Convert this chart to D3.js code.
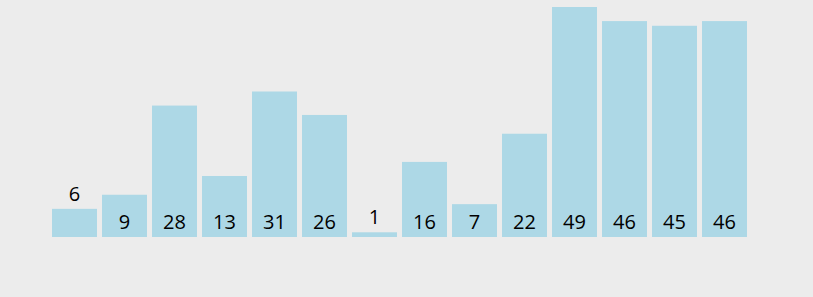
<!DOCTYPE html>
<html>
    <head>
        <script src="https://d3js.org/d3.v7.min.js"></script>
        <style>
            body { margin: 0; background: #ececec; }
        </style>
    </head>
    <body>
        <div id="chart"></div>
        <script>
            //  data
            const values = [6, 9, 28, 13, 31, 26, 1, 16, 7, 22, 49, 46, 45, 46];

            const width = 813;
            const height = 297;
            const barColor = "#add8e6";

            const svg = d3.select("#chart").append("svg")
                .attr("width", width)
                .attr("height", height);

            svg.append("rect")
                .attr("width", width)
                .attr("height", height)
                .attr("fill", "#ececec");

            const x = d3.scaleBand()
                .domain(d3.range(values.length))
                .range([52, 747])
                .paddingInner(0.1)
                .paddingOuter(0);

            const y = d3.scaleLinear()
                .domain([0, d3.max(values)])
                .range([237, 7]);

            svg.append("g")
                .selectAll("rect")
                .data(values)
                .join("rect")
                    .attr("x", (d, i) => x(i))
                    .attr("y", d => y(d))
                    .attr("width", x.bandwidth())
                    .attr("height", d => y(0) - y(d))
                    .attr("fill", barColor);

            //  small bars get their label on top, the rest inside at the bottom
            svg.append("g")
                .selectAll("text")
                .data(values)
                .join("text")
                    .text(d => d)
                    .attr("x", (d, i) => x(i) + x.bandwidth() / 2)
                    .attr("y", d => (y(0) - y(d)) < 30 ? y(d) - 8 : y(0) - 8)
                    .attr("text-anchor", "middle")
                    .attr("font-family", "'Open Sans', sans-serif")
                    .attr("font-size", 20)
                    .attr("fill", "black");
        </script>
    </body>
</html>
